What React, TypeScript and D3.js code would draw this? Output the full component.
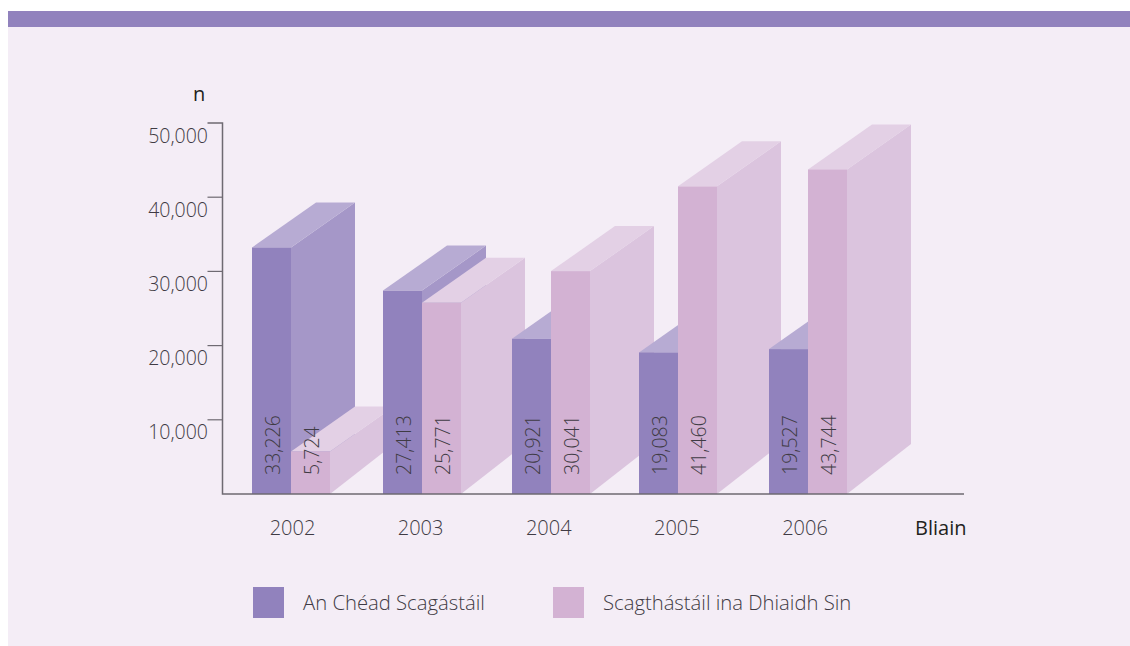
import React from "react";
import * as d3 from "d3";

const years = ["2002", "2003", "2004", "2005", "2006"];
const firstScreening = [33226, 27413, 20921, 19083, 19527];
const laterScreening = [5724, 25771, 30041, 41460, 43744];
const yTicks = [10000, 20000, 30000, 40000, 50000];
const seriesNames = ["An Chéad Scagástáil", "Scagthástáil ina Dhiaidh Sin"];

const W = 1130, H = 646;
const FONT = "'Open Sans', sans-serif";
const TXT = "#3f3b44";
const AXIS = "#6e6a72";
const palette = [
  { front: "#9182bd", top: "#b7abd3", side: "#a597c8" },
  { front: "#d3b2d3", top: "#e3d0e5", side: "#dbc4de" },
];

const y = d3.scaleLinear().domain([0, 50000]).range([494, 123]);
const groupCentre = d3.scaleOrdinal<string, number>().domain(years).range([291, 422, 551, 678, 808]);
const yearLabelX = d3.scalePoint<string>().domain(years).range([292.5, 805]);
const barW = 39, dx = 64, dyTop = 45, dyBottom = 50;
const line = d3.line();

function Box({ x, v, c }: { x: number; v: number; c: { front: string; top: string; side: string } }) {
  const t = y(v), b = y(0), r = x + barW;
  return (
    <g>
      <path d={line([[r, t], [r + dx, t - dyTop], [r + dx, b - dyBottom], [r, b]]) + "Z"} fill={c.side} />
      <path d={line([[x, t], [x + dx, t - dyTop], [r + dx, t - dyTop], [r, t]]) + "Z"} fill={c.top} />
      <rect x={x} y={t} width={barW} height={b - t} fill={c.front} />
    </g>
  );
}

export default function App() {
  return (
    <svg width={W} height={H} style={{ position: "absolute", left: 0, top: 0, display: "block" }} fontFamily={FONT}>
      <rect x={8} y={11} width={W - 8} height={H - 11} fill="#f4edf6" />
      <rect x={8} y={11} width={W - 8} height={16} fill="#9182bd" />

      {years.map((yr, i) => (
        <g key={yr}>
          <Box x={groupCentre(yr) - barW} v={firstScreening[i]} c={palette[0]} />
          <Box x={groupCentre(yr)} v={laterScreening[i]} c={palette[1]} />
        </g>
      ))}

      <path d={`M207.5,${y(50000)}H222.5V${y(0)}H964`} fill="none" stroke={AXIS} strokeWidth={1.5} />
      {yTicks.map((t) => (
        <g key={t}>
          {t < 50000 && <line x1={207.5} x2={222.5} y1={y(t)} y2={y(t)} stroke={AXIS} strokeWidth={1.2} />}
          <text x={208} y={y(t) + 19.5} textAnchor="end" fontSize={19.5} fontWeight={300} fill={TXT}>
            {d3.format(",")(t)}
          </text>
        </g>
      ))}

      {years.map((yr, i) => (
        <g key={yr}>
          {[firstScreening[i], laterScreening[i]].map((v, s) => {
            const cx = groupCentre(yr) + (s === 0 ? -barW / 2 : barW / 2);
            return (
              <text key={s} transform={`translate(${cx + 8.5},475) rotate(-90)`} fontSize={19.5} fontWeight={300} fill={TXT}>
                {d3.format(",")(v)}
              </text>
            );
          })}
          <text x={yearLabelX(yr)} y={535} textAnchor="middle" fontSize={20} fontWeight={300} fill={TXT}>
            {yr}
          </text>
        </g>
      ))}

      <text x={193} y={101} fontSize={20} fill="#231f20">n</text>
      <text x={915} y={535} fontSize={20} fill="#231f20">Bliain</text>

      {seriesNames.map((name, i) => (
        <g key={name}>
          <rect x={i === 0 ? 253 : 553} y={587} width={31} height={31} fill={palette[i].front} />
          <text x={i === 0 ? 303 : 603} y={610} fontSize={20.25} fontWeight={300} fill={TXT}>{name}</text>
        </g>
      ))}
    </svg>
  );
}
